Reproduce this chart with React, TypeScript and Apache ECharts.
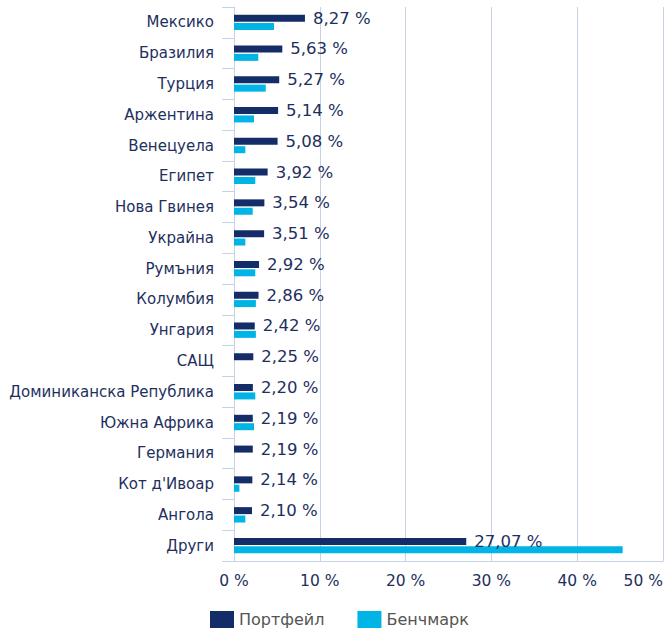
import React, { useEffect, useRef } from "react";
import * as echarts from "echarts";

const categories = [
  "Мексико", "Бразилия", "Турция", "Аржентина", "Венецуела", "Египет",
  "Нова Гвинея", "Украйна", "Румъния", "Колумбия", "Унгария", "САЩ",
  "Доминиканска Република", "Южна Африка", "Германия", "Кот д'Ивоар", "Ангола", "Други",
];
const portfolio = [8.27, 5.63, 5.27, 5.14, 5.08, 3.92, 3.54, 3.51, 2.92, 2.86, 2.42, 2.25, 2.2, 2.19, 2.19, 2.14, 2.1, 27.07];
const benchmark = [4.66, 2.83, 3.7, 2.33, 1.32, 2.48, 2.18, 1.32, 2.48, 2.55, 2.55, 0, 2.48, 2.33, 0, 0.63, 1.32, 45.3];
const xTicks = { min: 0, max: 50, interval: 10 };

const FONT = "DejaVu Sans";
const NAVY = "#142c68";
const CYAN = "#00b4e6";
const TEXT = "#1e2f5e";
const GRID = "#c7d3e4";

export default function App() {
  const ref = useRef<HTMLDivElement>(null);
  useEffect(() => {
    document.body.style.margin = "0";
    const chart = echarts.init(ref.current!, null, { renderer: "svg" });
    chart.setOption({
      animation: false,
      textStyle: { fontFamily: FONT },
      legend: {
        bottom: 0,
        left: 205,
        itemWidth: 24,
        itemHeight: 17,
        itemGap: 33,
        icon: "rect",
        textStyle: { fontFamily: FONT, fontSize: 16, color: "#555" },
        data: ["Портфейл", "Бенчмарк"],
      },
      grid: { left: 234, right: 4, top: 7, bottom: 72, containLabel: false },
      xAxis: {
        type: "value",
        min: xTicks.min,
        max: xTicks.max,
        interval: xTicks.interval,
        axisLine: { show: true, lineStyle: { color: GRID } },
        axisTick: { show: false },
        splitLine: { lineStyle: { color: GRID, width: 1 } },
        axisLabel: {
          formatter: "{value} %",
          fontFamily: FONT,
          fontSize: 15.5,
          color: TEXT,
          margin: 12,
          alignMaxLabel: "right",
        },
      },
      yAxis: {
        type: "category",
        inverse: true,
        data: categories,
        axisLine: { show: true, lineStyle: { color: GRID } },
        axisTick: { show: true, length: 12, lineStyle: { color: GRID } },
        axisLabel: { fontFamily: FONT, fontSize: 15, color: TEXT, margin: 20 },
      },
      series: [
        {
          name: "Портфейл",
          type: "bar",
          data: portfolio,
          barWidth: 7,
          barGap: "20%",
          itemStyle: { color: NAVY },
          label: {
            show: true,
            position: "right",
            distance: 8,
            fontFamily: FONT,
            fontSize: 16.5,
            color: TEXT,
            formatter: (p: any) => p.value.toFixed(2).replace(".", ",") + " %",
          },
        },
        {
          name: "Бенчмарк",
          type: "bar",
          data: benchmark,
          barWidth: 7,
          itemStyle: { color: CYAN },
        },
      ],
    });
    return () => chart.dispose();
  }, []);
  return <div ref={ref} style={{ width: 667, height: 633 }} />;
}
